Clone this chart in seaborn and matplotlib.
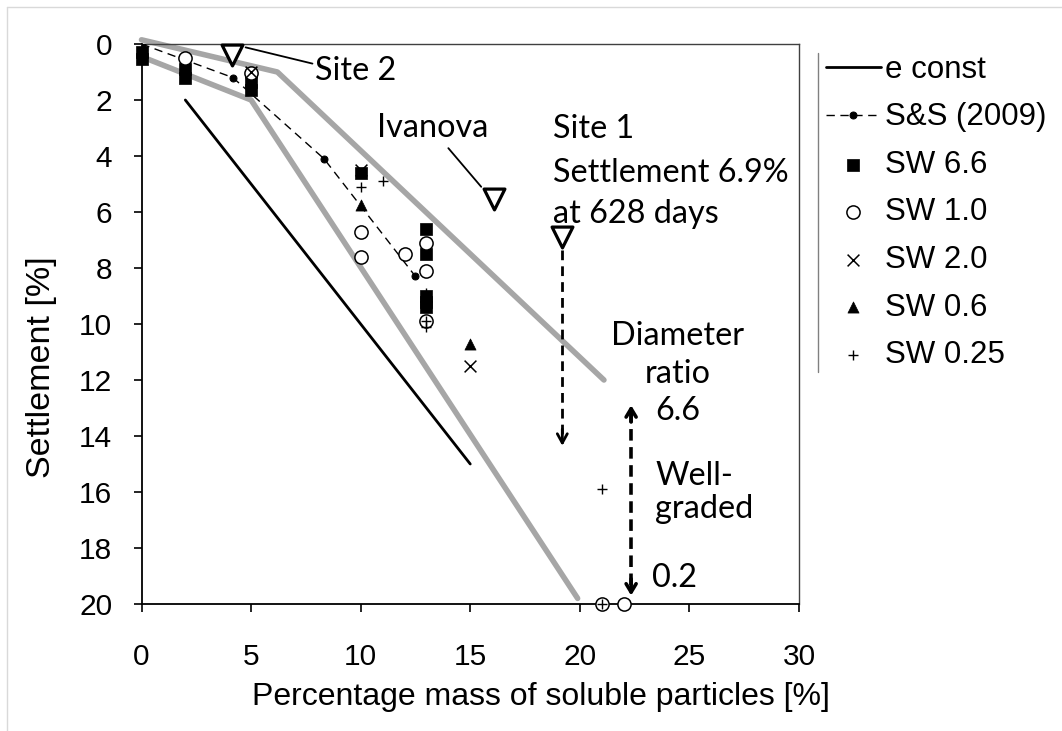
import matplotlib
matplotlib.use("Agg")
import matplotlib.pyplot as plt
import seaborn as sns
from matplotlib.lines import Line2D

# ---- data -----------------------------------------------------------------
# e = const reference line
e_const_x = [2, 15]
e_const_y = [2, 15]

# S&S (2009) prediction
ss_x = [0, 4.17, 8.33, 12.5]
ss_y = [0, 1.2, 4.1, 8.3]

# grey envelope lines
env_upper_x = [0, 6.2, 21.1]
env_upper_y = [-0.15, 1.0, 12.0]
env_lower_x = [0, 5, 19.9]
env_lower_y = [0.45, 2.0, 19.8]

# test series (soluble mass %, settlement %)
sw66_x = [0, 0, 2, 2, 5, 5, 10, 13, 13, 13, 13, 13]
sw66_y = [0.3, 0.55, 0.9, 1.2, 1.35, 1.65, 4.6, 6.6, 7.5, 9.0, 9.2, 9.4]
sw10_x = [2, 5, 10, 10, 12, 13, 13, 13, 21, 22]
sw10_y = [0.5, 1.05, 6.7, 7.6, 7.5, 7.1, 8.1, 9.9, 20, 20]
sw20_x = [5, 10, 15]
sw20_y = [1.0, 4.5, 11.5]
sw06_x = [10, 15]
sw06_y = [5.75, 10.7]
sw025_x = [5, 10, 11, 13, 13, 13, 21, 21]
sw025_y = [1.6, 5.1, 4.9, 8.9, 9.9, 10.1, 15.9, 20]

# field sites
site_names = ["Site 2", "Ivanova", "Site 1"]
site_x = [4.15, 16.1, 19.2]
site_y = [0.4, 5.55, 6.9]

x_ticks = [0, 5, 10, 15, 20, 25, 30]
y_ticks = [0, 2, 4, 6, 8, 10, 12, 14, 16, 18, 20]

# ---- figure ---------------------------------------------------------------
sns.set_theme(style="white")
plt.rcParams["font.family"] = ["Liberation Sans", "DejaVu Sans"]

W, H = 1062, 731
fig = plt.figure(figsize=(W / 100, H / 100), dpi=100)
fig.patch.set_facecolor("white")
ax = fig.add_axes([141.5 / W, 1 - 604 / H, (799 - 141.5) / W, (604 - 44) / H])
ax.set_facecolor("white")

GREY = "#A6A6A6"
NOTE_FONT = "Lato"
NOTE_SIZE = 23.3

# envelope lines
sns.lineplot(x=env_upper_x, y=env_upper_y, sort=False, color=GREY, lw=4,
             ax=ax, zorder=1, clip_on=False)
sns.lineplot(x=env_lower_x, y=env_lower_y, sort=False, color=GREY, lw=4,
             ax=ax, zorder=1, clip_on=False)

# e const
sns.lineplot(x=e_const_x, y=e_const_y, color="black", lw=2, ax=ax,
             label="e const", zorder=2)

# S&S (2009)
ss_line = sns.lineplot(x=ss_x, y=ss_y, color="black", lw=1, marker="o",
                       markersize=5, mec="black", mfc="black", ax=ax,
                       label="S&S (2009)", zorder=3).lines[-1]
ss_line.set_dashes((6, 4))

# measured series
sns.scatterplot(x=sw66_x, y=sw66_y, marker="s", s=9 ** 2, color="black",
                edgecolor="black", linewidth=0.5, ax=ax, label="SW 6.6",
                zorder=4, clip_on=False)
sns.scatterplot(x=sw10_x, y=sw10_y, marker="o", s=9.5 ** 2, color="white",
                edgecolor="black", linewidth=1.1, ax=ax, label="SW 1.0",
                zorder=5, clip_on=False)
sns.scatterplot(x=sw20_x, y=sw20_y, marker="x", s=8.5 ** 2, color="black",
                linewidth=1.1, ax=ax, label="SW 2.0", zorder=5, clip_on=False)
sns.scatterplot(x=sw06_x, y=sw06_y, marker="^", s=8 ** 2, color="black",
                edgecolor="black", linewidth=0.5, ax=ax, label="SW 0.6",
                zorder=5, clip_on=False)
sns.scatterplot(x=sw025_x, y=sw025_y, marker="+", s=7.5 ** 2, color="black",
                linewidth=1.0, ax=ax, label="SW 0.25", zorder=6, clip_on=False)

# field site markers
sns.scatterplot(x=site_x, y=site_y, marker="v", s=15 ** 2, color="white",
                edgecolor="black", linewidth=2.3, ax=ax, zorder=7,
                clip_on=False, legend=False)

# leader lines for the site labels
ax.annotate("", xy=(4.75, 0.12), xytext=(7.8, 0.7),
            arrowprops=dict(arrowstyle="-", color="black", lw=1.3,
                            shrinkA=0, shrinkB=0))
ax.annotate("", xy=(15.5, 5.1), xytext=(14.0, 3.72),
            arrowprops=dict(arrowstyle="-", color="black", lw=1.3,
                            shrinkA=0, shrinkB=0))

# Site 1 dashed arrow
s1x, s1_top, s1_tip = site_x[2], site_y[2] + 0.45, 14.35
ax.plot([s1x, s1x], [s1_top, s1_tip - 0.1], color="black", lw=2,
        dashes=(3.5, 2.2), zorder=3)
ax.annotate("", xy=(s1x, s1_tip), xytext=(s1x, s1_tip - 0.6),
            arrowprops=dict(arrowstyle="->,head_length=0.55,head_width=0.3",
                            color="black", lw=2, shrinkA=0, shrinkB=0))

# diameter-ratio double arrow
dx, d_top, d_bot = 22.34, 12.9, 19.7
ax.plot([dx, dx], [d_top + 0.2, d_bot - 0.2], color="black", lw=2.6,
        dashes=(3.2, 1.8), zorder=3)
for tip, tail in ((d_top, d_top + 0.6), (d_bot, d_bot - 0.6)):
    ax.annotate("", xy=(dx, tip), xytext=(dx, tail),
                arrowprops=dict(arrowstyle="->,head_length=0.5,head_width=0.3",
                                color="black", lw=2.6, shrinkA=0, shrinkB=0))

# annotation texts
def note(x, y, s, ha="left"):
    ax.text(x, y, s, ha=ha, va="baseline", fontfamily=NOTE_FONT,
            fontsize=NOTE_SIZE, color="black", zorder=8)

note(7.92, 1.29, site_names[0])
note(10.74, 3.31, site_names[1])
note(18.77, 3.37, site_names[2])
note(18.77, 4.92, "Settlement 6.9%")
note(18.77, 6.40, "at 628 days")
note(24.48, 10.75, "Diameter", ha="center")
note(24.48, 12.12, "ratio", ha="center")
note(24.48, 13.43, "6.6", ha="center")
note(23.43, 15.75, "Well-")
note(23.43, 16.93, "graded")
note(23.29, 19.38, "0.2")

# axes
ax.set_xlim(0, 30)
ax.set_ylim(20, 0)
ax.set_xticks(x_ticks)
ax.set_yticks(y_ticks)
ax.tick_params(axis="both", which="major", direction="out", length=6,
               width=1.2, color="black", labelsize=21.5, labelcolor="black",
               left=True, bottom=True)
ax.tick_params(axis="y", pad=15)
ax.tick_params(axis="x", pad=22)
for side in ("left", "bottom"):
    ax.spines[side].set_color("black")
    ax.spines[side].set_linewidth(1.3)
for side in ("top", "right"):
    ax.spines[side].set_color("#404040")
    ax.spines[side].set_linewidth(1.0)
ax.grid(False)

ax.set_xlabel("Percentage mass of soluble particles [%]", fontsize=23,
              color="black")
ax.set_ylabel("Settlement [%]", fontsize=24.5, color="black")
ax.xaxis.set_label_coords((541 - 141.5) / (799 - 141.5), -(697 - 604) / 560)
ax.xaxis.label.set_va("center")
ax.yaxis.set_label_coords((42 - 141.5) / (799 - 141.5), (604 - 367.5) / 560)
ax.yaxis.label.set_va("center")

# legend outside the plot area
handles, labels = ax.get_legend_handles_labels()
lookup = dict(zip(labels, handles))
order = ["e const", "S&S (2009)", "SW 6.6", "SW 1.0", "SW 2.0", "SW 0.6",
         "SW 0.25"]
if ax.get_legend() is not None:
    ax.get_legend().remove()
fig.legend([lookup[k] for k in order], order, loc="upper left",
           bbox_to_anchor=(826 / W, 1 - 55 / H), frameon=False,
           prop=dict(family="Liberation Sans", size=22.5), handlelength=1.75,
           handletextpad=0.15, labelspacing=0.56, borderpad=0,
           borderaxespad=0, labelcolor="black")
fig.add_artist(Line2D([818 / W, 818 / W], [1 - 53 / H, 1 - 372 / H],
                      transform=fig.transFigure, color="#808080", lw=1))

# chart-area edge
fig.add_artist(Line2D([7 / W, 7 / W], [0, 1 - 7 / H],
                      transform=fig.transFigure, color="#D9D9D9", lw=1))
fig.add_artist(Line2D([7 / W, 1], [1 - 7 / H, 1 - 7 / H],
                      transform=fig.transFigure, color="#D9D9D9", lw=1))

fig.savefig("out.png", dpi=100, facecolor="white")
